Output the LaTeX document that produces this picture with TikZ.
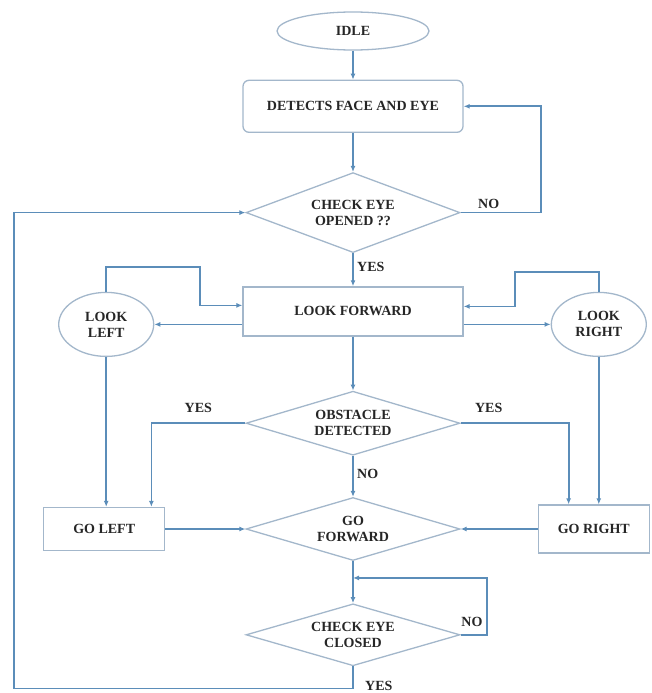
\documentclass[tikz,border=0pt]{standalone}
\usepackage{fontspec}
\setmainfont{Liberation Serif}
\usetikzlibrary{arrows.meta, positioning, shapes.geometric, calc}
\definecolor{flowline}{HTML}{5B8DB9}
\definecolor{flowedge}{HTML}{A3B7CB}

\begin{document}
\begin{tikzpicture}[
            x=1pt, y=-1pt,                     % unidades en pixeles de la figura
            every node/.style={font=\fontsize{14}{16}\selectfont\bfseries, text=black!85},
            block/.style={
                rectangle,
                draw=flowedge,
                line width=1.3pt,
                fill=white,
                align=center,
                inner sep=0pt,
                minimum width=220pt,
                minimum height=49pt
            },
            oval/.style={
                ellipse,
                draw=flowedge,
                line width=1.3pt,
                fill=white,
                align=center,
                inner sep=0pt
            },
            decision/.style={
                diamond,
                aspect=3,
                draw=flowedge,
                line width=1.3pt,
                fill=white,
                align=center,
                inner sep=0pt,
                minimum width=214pt
            },
            line/.style={
                draw=flowline,
                line width=1.7pt,
                -{Latex[length=6pt, width=5pt]}
            }
        ]
            \useasboundingbox (0,0) rectangle (651,693);

            % --- COLUMNA CENTRAL ---
            \node [oval, minimum width=152pt, minimum height=38pt] (idle) at (353,31) {IDLE};
            \node [block, rounded corners=6pt, minimum height=52pt, below=29pt of idle] (detect) {DETECTS FACE AND EYE};
            \node [decision, minimum height=80pt, below=39pt of detect] (opened) {CHECK EYE\\OPENED ??};
            \node [block, below=33pt of opened] (lookfwd) {LOOK FORWARD};
            \node [decision, minimum height=64pt, below=54pt of lookfwd] (obstacle) {OBSTACLE\\DETECTED};
            \node [decision, minimum height=63pt, below=41pt of obstacle] (gofwd) {GO\\FORWARD};
            \node [decision, minimum height=62pt, below=42pt of gofwd] (closed) {CHECK EYE\\CLOSED};

            % --- LADOS ---
            \node [oval, minimum width=95pt, minimum height=64pt, left=88pt of lookfwd, yshift=-13pt] (lookleft) {LOOK\\LEFT};
            \node [oval, minimum width=95pt, minimum height=64pt, right=87pt of lookfwd, yshift=-13pt] (lookright) {LOOK\\RIGHT};
            \node [block, minimum width=121pt, minimum height=43pt, left=80pt of gofwd] (goleft) {GO LEFT};
            \node [block, minimum width=111pt, minimum height=48pt, right=77pt of gofwd] (goright) {GO RIGHT};

            % --- ENLACES ---
            \path [line] (idle) -- (detect);
            \path [line] (detect) -- (opened);
            \path [line] (opened.east) -- node[above, pos=0.35] {NO} ++(80,0) |- (detect.east);
            \path [line] (opened) -- node[right, pos=0.4] {YES} (lookfwd);

            \path [line] (lookleft.north) -- ++(0,-25) -- ++(94,0) |- ([yshift=6pt]lookfwd.west);
            \path [line] (lookfwd.west |- lookleft.east) -- (lookleft.east);
            \path [line] (lookright.north) -- ++(0,-20) -- ++(-84,0) |- ([yshift=5pt]lookfwd.east);
            \path [line] (lookfwd.east |- lookright.west) -- (lookright.west);

            \path [line] (lookfwd) -- (obstacle);
            \path [line] (obstacle.west) -| node[above, pos=0.25, yshift=6pt] {YES} ([xshift=-14pt]goleft.north east);
            \path [line] (obstacle.east) -| node[above, pos=0.13, yshift=6pt] {YES} ([xshift=31pt]goright.north west);
            \path [line] (lookleft.south) -- (lookleft.south |- goleft.north);
            \path [line] (lookright.south) -- (lookright.south |- goright.north);

            \path [line] (obstacle) -- node[right, pos=0.45] {NO} (gofwd);
            \path [line] (goleft) -- (gofwd);
            \path [line] (goright) -- (gofwd);
            \path [line] (gofwd) -- (closed);

            \path [line] (closed.east) -- ++(26,0) node[above left, yshift=4pt] {NO} |- ($(gofwd.south)!0.4!(closed.north)$);
            \path [line] (closed.south) -- ++(0,22) node[right, xshift=8pt, yshift=3pt] {YES} -- ++(-339,0) |- (opened.west);
        \end{tikzpicture}
\end{document}
